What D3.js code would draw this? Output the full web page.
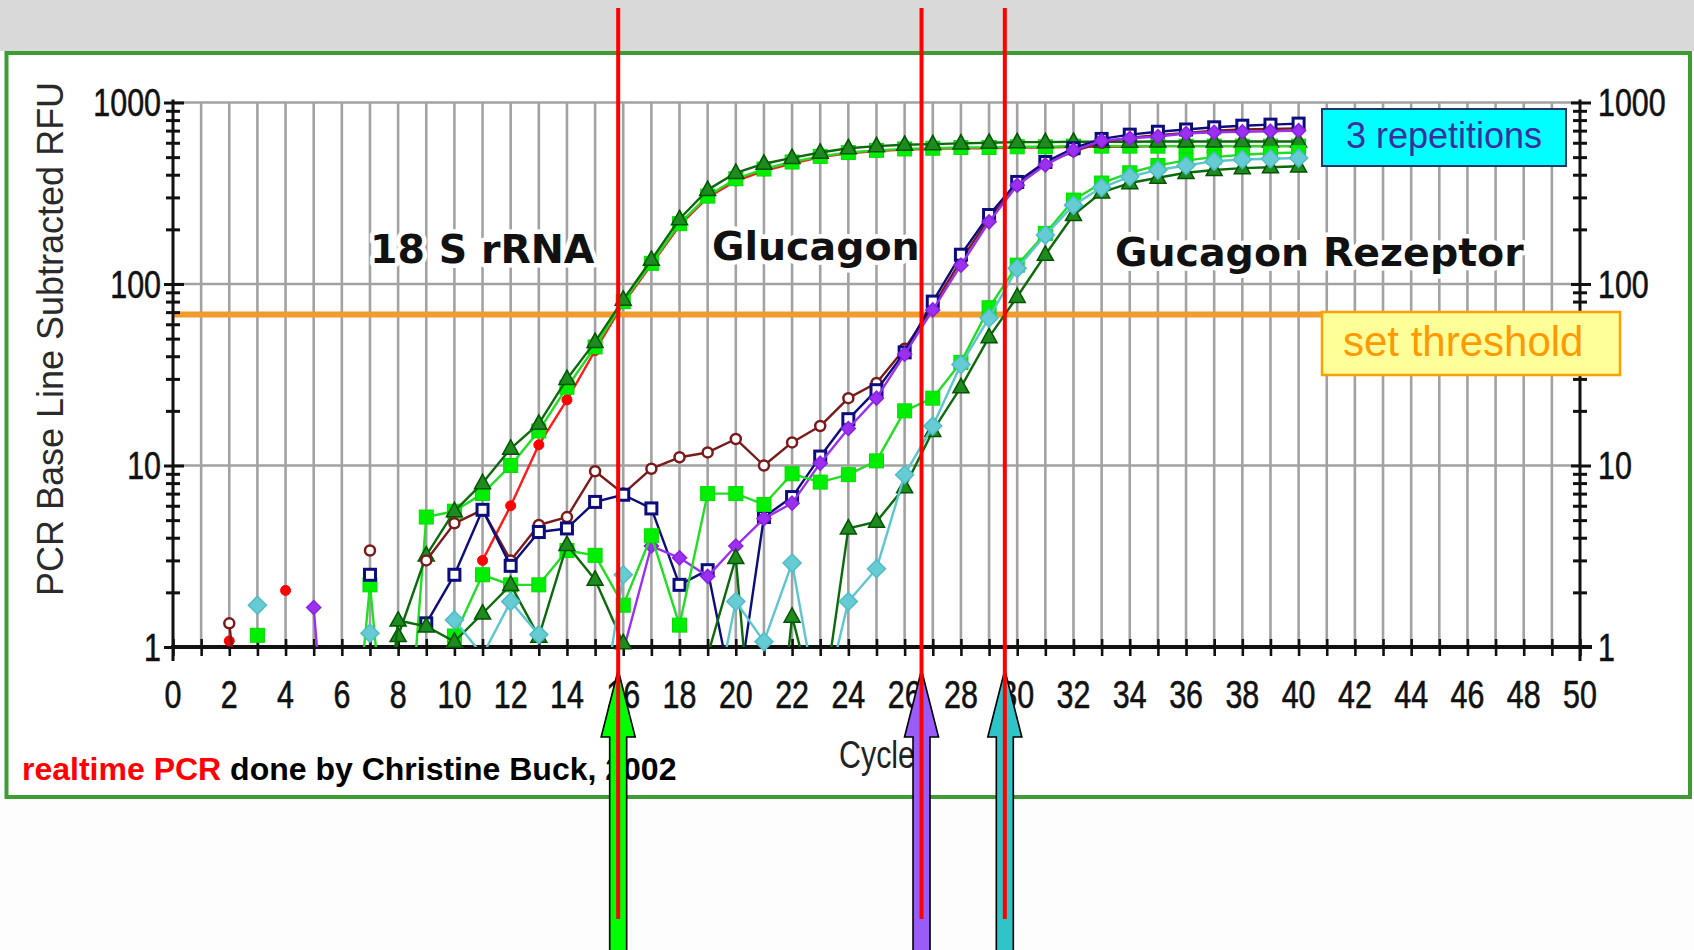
<!DOCTYPE html>
<html><head><meta charset="utf-8">
<script src="https://d3js.org/d3.v7.min.js"></script>
<style>
html,body{margin:0;padding:0;background:#fdfdfd;overflow:hidden}
svg{display:block}
</style></head><body>
<svg id="c" width="1694" height="950"></svg>
<script>
// ---------- DATA ----------
const cycles = [0,1,2,3,4,5,6,7,8,9,10,11,12,13,14,15,16,17,18,19,20,21,22,23,24,25,26,27,28,29,30,31,32,33,34,35,36,37,38,39,40];
const xTickLabels = [0,2,4,6,8,10,12,14,16,18,20,22,24,26,28,30,32,34,36,38,40,42,44,46,48,50];
const yTickLabels = [1,10,100,1000];
const yMinorTicks = [2,3,4,5,6,7,8,9,20,30,40,50,60,70,80,90,200,300,400,500,600,700,800,900];
const thresholdRFU = 68;
const ctCycles = [15.82, 26.6, 29.56];

// 18 S rRNA
const red18S = [null,null,1.08,null,2.05,null,null,null,null,null,null,3.0,6.0,13,23,43,78,128,210,300,370,420,460,500,525,540,550,555,560,560,565,565,570,570,570,575,575,575,575,575,575];
const brightGreen18S = [null,null,null,1.16,null,null,0.05,2.2,0.05,5.2,5.6,7.0,10,15.5,27,45,80,130,215,305,380,430,470,505,530,545,555,560,565,565,570,570,575,575,575,575,575,575,575,575,575];
const darkGreen18S = [null,null,null,null,null,null,null,0.05,1.15,3.2,5.6,8.0,12.4,17,30,48,82,136,228,330,410,460,495,530,560,575,585,590,595,600,605,605,608,608,608,610,610,610,610,610,610];
// Glucagon
const brownGlu = [null,null,1.35,0.05,null,null,null,3.4,null,3.0,4.8,5.7,3.0,4.7,5.2,9.3,7.0,9.6,11.1,11.8,14.0,10.0,13.4,16.5,23.5,28.5,44,75,135,230,350,460,540,600,640,660,680,700,710,715,720];
const navyGlu = [null,null,null,null,null,null,null,2.5,null,1.35,2.5,5.7,2.8,4.3,4.5,6.3,6.9,5.8,2.2,2.65,0.45,5.2,6.7,11.2,18,26,42,80,145,240,365,470,560,630,665,690,710,730,745,755,765];
const purpleGlu = [null,null,null,null,null,1.65,0.02,null,null,null,null,null,null,null,null,null,0.95,3.6,3.1,2.45,3.6,5.1,6.2,10.3,16,23.5,41,72,127,220,350,453,545,615,635,650,675,685,690,695,700];
// Gucagon Rezeptor
const brightGreenRez = [null,null,null,null,null,null,null,null,null,0.05,1.15,2.5,2.2,2.2,3.4,3.2,1.7,4.1,1.32,7.0,7.0,6.1,9.0,8.1,8.9,10.6,20,23.5,37,74,127,190,290,360,410,450,480,500,515,525,530];
const darkGreenRez = [null,null,null,null,null,null,null,0.05,1.4,1.3,1.07,1.53,2.2,1.14,3.65,2.35,1.05,0.05,null,0.9,3.1,0.05,1.47,0.37,4.5,4.9,7.6,15.5,27,51,85,145,240,320,360,385,410,425,435,440,445];
const cyanRez = [null,null,null,1.7,null,null,null,1.19,null,null,1.41,0.9,1.78,1.17,null,0.25,2.5,null,null,0.3,1.78,1.07,2.9,0.4,1.78,2.7,8.9,16.5,36,65,122,186,272,340,390,425,450,475,485,490,495];

// ---------- STYLE ----------
const seriesStyles = [
  {values: red18S, line:"#ff1a1a", marker:"circle", fill:"#ff0000", stroke:"#ff0000", size:5},
  {values: brightGreen18S, line:"#22dd22", marker:"square", fill:"#00ee00", stroke:"#00dd00", size:14},
  {values: darkGreen18S, line:"#0b6b0b", marker:"triangle", fill:"#1f8a1f", stroke:"#005500", size:8},
  {values: brownGlu, line:"#7a1a1a", marker:"ocircle", fill:"#ffffff", stroke:"#7a1a1a", size:5},
  {values: navyGlu, line:"#0c0c7c", marker:"osquare", fill:"#ffffff", stroke:"#0c0c7c", size:11},
  {values: purpleGlu, line:"#9b30f0", marker:"diamond", fill:"#9b30f0", stroke:"#8a22e0", size:7},
  {values: brightGreenRez, line:"#22dd22", marker:"square", fill:"#00ee00", stroke:"#00dd00", size:14},
  {values: darkGreenRez, line:"#0b6b0b", marker:"triangle", fill:"#1f8a1f", stroke:"#005500", size:8},
  {values: cyanRez, line:"#5cc6cf", marker:"diamond", fill:"#66cbd3", stroke:"#4fbcc6", size:9}
];

const W = 1694, H = 950;
const svg = d3.select("#c");
const x = d3.scaleLinear().domain([0,50]).range([173,1580]);
const y = d3.scaleLog().domain([1,1000]).range([647,102.5]);

// background
svg.append("rect").attr("width",W).attr("height",H).attr("fill","#fdfdfd");
svg.append("rect").attr("width",W).attr("height",51).attr("fill","#d9d9d9");
svg.append("rect").attr("x",6.5).attr("y",53).attr("width",1683.5).attr("height",744)
  .attr("fill","#ffffff").attr("stroke","#3f9c35").attr("stroke-width",4);

// grid
const grid = svg.append("g");
grid.selectAll("line.v").data(d3.range(1,50)).join("line")
  .attr("x1",d=>x(d)).attr("x2",d=>x(d)).attr("y1",y(1000)).attr("y2",y(1))
  .attr("stroke","#a2a2a2").attr("stroke-width",2.6);
grid.selectAll("line.h").data([10,100,1000]).join("line")
  .attr("x1",x(0)).attr("x2",x(50)).attr("y1",d=>y(d)).attr("y2",d=>y(d))
  .attr("stroke","#a2a2a2").attr("stroke-width",2.6);

// threshold
svg.append("line").attr("x1",x(0)).attr("x2",x(50)).attr("y1",y(thresholdRFU)).attr("y2",y(thresholdRFU))
  .attr("stroke","#ef9c2c").attr("stroke-width",6);

// gene labels with white halo
const geneLabels = [
  {t:"18 S rRNA", x:370, y:263},
  {t:"Glucagon", x:712, y:260},
  {t:"Gucagon Rezeptor", x:1115, y:266}
];
svg.selectAll("text.gene").data(geneLabels).join("text")
  .attr("x",d=>d.x).attr("y",d=>d.y)
  .attr("font-family","DejaVu Sans, Verdana, sans-serif").attr("font-weight","bold")
  .attr("font-size",39.5).attr("fill","#111")
  .attr("stroke","#ffffff").attr("stroke-width",9).attr("stroke-linejoin","round")
  .attr("paint-order","stroke fill").text(d=>d.t);

// axes
const xAxisG = svg.append("g").attr("transform",`translate(0,${y(1)})`)
  .call(d3.axisBottom(x).tickValues(d3.range(0,51)).tickSize(9).tickFormat(""));
xAxisG.select(".domain").attr("d",`M${x(0)-2},0H${x(50)+12}`).attr("stroke","#111").attr("stroke-width",4);
xAxisG.selectAll(".tick line").attr("y1",-8).attr("y2",9).attr("stroke","#111").attr("stroke-width",2.6);

function yAxis(gen, xpos){
  const g = svg.append("g").attr("transform",`translate(${xpos},0)`)
    .call(gen(y).tickValues(yMinorTicks.concat(yTickLabels)).tickSize(7).tickFormat(""));
  g.select(".domain").attr("d",`M0,${y(1000)-3}V${y(1)+14}`).attr("stroke","#111").attr("stroke-width",3);
  g.selectAll(".tick line").attr("x1",-7).attr("x2",7).attr("stroke","#111").attr("stroke-width",3);
  g.selectAll(".tick").filter(d=>yTickLabels.includes(d)).select("line").attr("x1",-9).attr("x2",11);
}
yAxis(d3.axisLeft, x(0));
yAxis(d3.axisRight, x(50));

// tick labels (narrow)
const tickFont = "Liberation Sans, Arial, sans-serif";
svg.selectAll("text.xt").data(xTickLabels).join("text")
  .attr("transform",d=>`translate(${x(d)},708) scale(0.8,1)`)
  .attr("text-anchor","middle").attr("font-family",tickFont).attr("font-size",38).attr("fill","#111")
  .attr("stroke","#111").attr("stroke-width",0.6)
  .text(d=>d);
svg.selectAll("text.yl").data(yTickLabels).join("text")
  .attr("transform",d=>`translate(161,${y(d)+13.5}) scale(0.8,1)`)
  .attr("text-anchor","end").attr("font-family",tickFont).attr("font-size",38).attr("fill","#111")
  .attr("stroke","#111").attr("stroke-width",0.6)
  .text(d=>d);
svg.selectAll("text.yr").data(yTickLabels).join("text")
  .attr("transform",d=>`translate(1598,${y(d)+13.5}) scale(0.8,1)`)
  .attr("text-anchor","start").attr("font-family",tickFont).attr("font-size",38).attr("fill","#111")
  .attr("stroke","#111").attr("stroke-width",0.6)
  .text(d=>d);

// axis titles
svg.append("text").attr("transform","translate(63,339) rotate(-90)").attr("text-anchor","middle")
  .attr("font-family","Liberation Sans, Arial, sans-serif").attr("font-size",36).attr("fill","#2a2a2a")
  .text("PCR Base Line Subtracted RFU");
svg.append("text").attr("transform","translate(877,768) scale(0.8,1)").attr("text-anchor","middle")
  .attr("font-family",tickFont).attr("font-size",38).attr("fill","#222").text("Cycle");

// series
svg.append("clipPath").attr("id","pc").append("rect")
  .attr("x",x(0)-20).attr("y",y(1000)-40).attr("width",x(50)-x(0)+40).attr("height",y(1)-y(1000)+40);
const line = d3.line().defined(d=>d.v!=null).x(d=>x(d.c)).y(d=>y(d.v));
const sg = svg.append("g");
function markerPath(type, s){
  if(type==="diamond") return `M0,${-s}L${s},0L0,${s}L${-s},0Z`;
  if(type==="triangle") return `M0,${-s*1.1}L${s},${s*0.7}L${-s},${s*0.7}Z`;
  return null;
}
seriesStyles.forEach(st=>{
  const pts = cycles.map((c,i)=>({c, v: st.values[i]}));
  sg.append("path").datum(pts).attr("clip-path","url(#pc)")
    .attr("fill","none").attr("stroke",st.line).attr("stroke-width",2.4).attr("stroke-linejoin","round")
    .attr("d",line);
  const vis = pts.filter(d=>d.v!=null && d.v>=1);
  const g = sg.append("g");
  if(st.marker==="circle" || st.marker==="ocircle"){
    g.selectAll("circle").data(vis).join("circle")
      .attr("cx",d=>x(d.c)).attr("cy",d=>y(d.v)).attr("r",st.size)
      .attr("fill",st.fill).attr("stroke",st.stroke).attr("stroke-width",st.marker==="ocircle"?2.5:1);
  } else if(st.marker==="square" || st.marker==="osquare"){
    g.selectAll("rect").data(vis).join("rect")
      .attr("x",d=>x(d.c)-st.size/2).attr("y",d=>y(d.v)-st.size/2).attr("width",st.size).attr("height",st.size)
      .attr("fill",st.fill).attr("stroke",st.stroke).attr("stroke-width",st.marker==="osquare"?3:1);
  } else {
    g.selectAll("path").data(vis).join("path")
      .attr("transform",d=>`translate(${x(d.c)},${y(d.v)})`)
      .attr("d",markerPath(st.marker, st.size))
      .attr("fill",st.fill).attr("stroke",st.stroke).attr("stroke-width",1.5);
  }
});

// annotation boxes
svg.append("rect").attr("x",1322).attr("y",109).attr("width",244).attr("height",57)
  .attr("fill","#00ffff").attr("stroke","#1f3868").attr("stroke-width",2);
svg.append("text").attr("x",1444).attr("y",148).attr("text-anchor","middle")
  .attr("font-family","Liberation Sans, Arial, sans-serif").attr("font-size",36).attr("fill","#3b2e9e")
  .text("3 repetitions");
svg.append("rect").attr("x",1322).attr("y",312).attr("width",298).attr("height",63)
  .attr("fill","#ffff99").attr("stroke","#ffa000").attr("stroke-width",2.5);
svg.append("text").attr("x",1343).attr("y",356)
  .attr("font-family","Liberation Sans, Arial, sans-serif").attr("font-size",42).attr("fill","#ff9900")
  .text("set threshold");

// footer
const ft = svg.append("text").attr("x",22).attr("y",780)
  .attr("font-family","Liberation Sans, Arial, sans-serif").attr("font-weight","bold").attr("font-size",32);
ft.append("tspan").attr("fill","#ff0000").text("realtime PCR");
ft.append("tspan").attr("fill","#000000").text(" done by Christine Buck, 2002");

// arrows + Ct lines
const arrowColors = ["#00ff00","#9a5cf6","#2fc4c8"];
ctCycles.forEach((ct,i)=>{
  const cx = x(ct);
  svg.append("path")
    .attr("d",`M${cx},670L${cx+17},737L${cx+8.5},737L${cx+8.5},960L${cx-8.5},960L${cx-8.5},737L${cx-17},737Z`)
    .attr("fill",arrowColors[i]).attr("stroke","#000").attr("stroke-width",1.6);
});
ctCycles.forEach(ct=>{
  svg.append("line").attr("x1",x(ct)).attr("x2",x(ct)).attr("y1",8).attr("y2",919)
    .attr("stroke","#ff0000").attr("stroke-width",4);
});
</script>
</body></html>
